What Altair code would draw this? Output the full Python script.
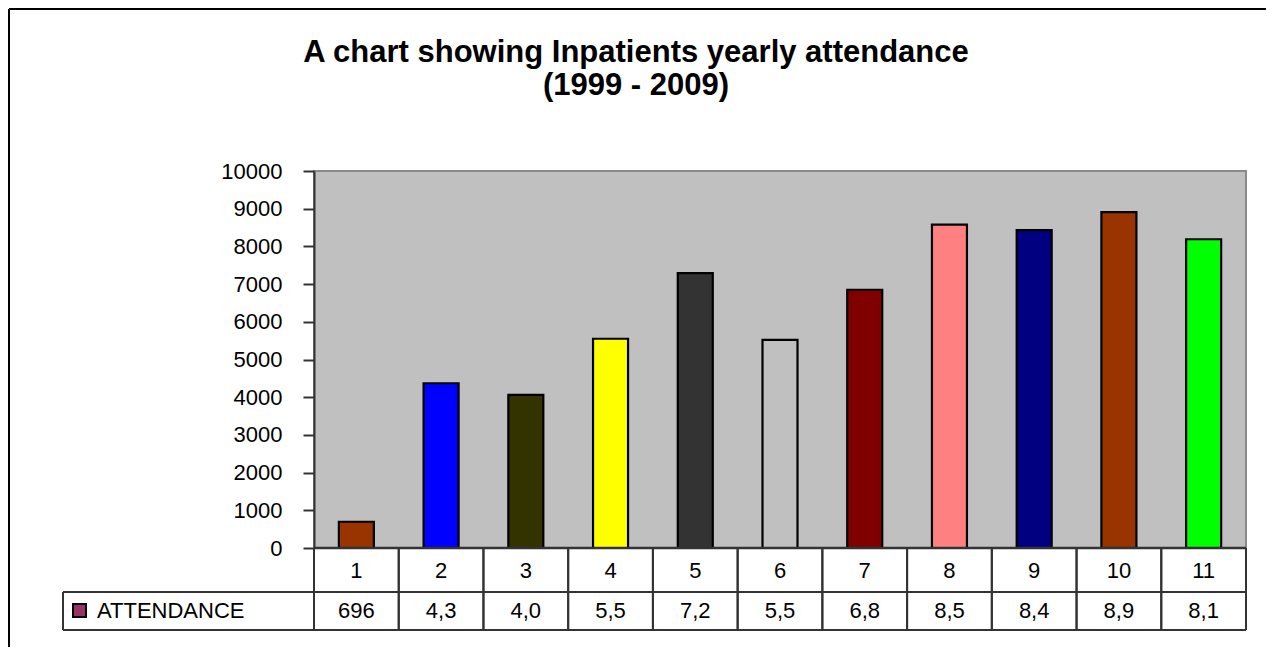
import altair as alt
import pandas as pd

# ---- data ----
categories = ["1", "2", "3", "4", "5", "6", "7", "8", "9", "10", "11"]
attendance = [696, 4370, 4060, 5550, 7290, 5520, 6850, 8580, 8430, 8910, 8190]
table_labels = ["696", "4,3", "4,0", "5,5", "7,2", "5,5", "6,8", "8,5", "8,4", "8,9", "8,1"]
bar_colors = ["#993300", "#0000FF", "#333300", "#FFFF00", "#333333", "#C0C0C0",
              "#800000", "#FF8080", "#000080", "#993300", "#00FF00"]
y_ticks = [0, 1000, 2000, 3000, 4000, 5000, 6000, 7000, 8000, 9000, 10000]
series_name = "ATTENDANCE"
series_color = "#993366"
title_lines = ["A chart showing Inpatients yearly attendance", "(1999 - 2009)"]

FONT = "Liberation Sans"
W, H = 932, 377
LINE = "#333333"
FS = 22

df = pd.DataFrame({
    "idx": list(range(1, len(categories) + 1)),
    "cat": categories,
    "value": attendance,
    "label": table_labels,
    "color": bar_colors,
})
df["left"] = df["idx"] - 0.5
df["right"] = df["idx"] + 0.5

xscale = alt.Scale(domain=[0.5, len(categories) + 0.5], nice=False, zero=False, padding=0)
base = alt.Chart(df)

bars = base.mark_bar(size=35, stroke="black", strokeWidth=2.2).encode(
    x=alt.X("idx:Q", scale=xscale, axis=None),
    y=alt.Y("value:Q", scale=alt.Scale(domain=[0, 10000], nice=False),
            axis=alt.Axis(values=y_ticks, title=None, labelFontSize=FS, labelFont=FONT,
                          labelColor="black", tickSize=11, tickColor=LINE, tickWidth=2,
                          domainColor=LINE, domainWidth=2, labelPadding=21, grid=False,
                          format="d")),
    color=alt.Color("color:N", scale=None),
)

# table grid
vl = base.mark_rule(color=LINE, strokeWidth=2).encode(
    x=alt.X("left:Q", scale=xscale, axis=None), y=alt.value(H), y2=alt.value(H + 82))
vr = base.mark_rule(color=LINE, strokeWidth=2).encode(
    x=alt.X("right:Q", scale=xscale, axis=None), y=alt.value(H), y2=alt.value(H + 82))

one = pd.DataFrame({"k": [0]})
h0 = alt.Chart(one).mark_rule(color=LINE, strokeWidth=2.5).encode(
    x=alt.value(0), x2=alt.value(W), y=alt.value(H))
h1 = alt.Chart(one).mark_rule(color=LINE, strokeWidth=2).encode(
    x=alt.value(-251), x2=alt.value(W), y=alt.value(H + 44))
h2 = alt.Chart(one).mark_rule(color=LINE, strokeWidth=2).encode(
    x=alt.value(-251), x2=alt.value(W), y=alt.value(H + 82))
vleft = alt.Chart(one).mark_rule(color=LINE, strokeWidth=2).encode(
    x=alt.value(-251), y=alt.value(H + 44), y2=alt.value(H + 82))

cat_text = base.mark_text(font=FONT, fontSize=FS, color="black", baseline="middle").encode(
    x=alt.X("idx:Q", scale=xscale, axis=None), y=alt.value(H + 23), text="cat:N")
val_text = base.mark_text(font=FONT, fontSize=FS, color="black", baseline="middle").encode(
    x=alt.X("idx:Q", scale=xscale, axis=None), y=alt.value(H + 63), text="label:N")

series_df = pd.DataFrame({"name": [series_name]})
swatch = alt.Chart(series_df).mark_rect(fill=series_color, stroke="black", strokeWidth=2).encode(
    x=alt.value(-241), x2=alt.value(-228), y=alt.value(H + 56), y2=alt.value(H + 69))
series_text = alt.Chart(series_df).mark_text(font=FONT, fontSize=FS, color="black",
                                             align="left", baseline="middle").encode(
    x=alt.value(-217), y=alt.value(H + 63), text="name:N")

# title
t1 = alt.Chart(pd.DataFrame({"t": [title_lines[0]]})).mark_text(
    font=FONT, fontSize=31, fontWeight="bold", color="black", align="center",
    baseline="alphabetic").encode(x=alt.value(322), y=alt.value(-109), text="t:N")
t2 = alt.Chart(pd.DataFrame({"t": [title_lines[1]]})).mark_text(
    font=FONT, fontSize=31, fontWeight="bold", color="black", align="center",
    baseline="alphabetic").encode(x=alt.value(322), y=alt.value(-76), text="t:N")

# outer frame (top and left edges visible in the reference)
ft = alt.Chart(one).mark_rule(color="black", strokeWidth=2).encode(
    x=alt.value(-305), x2=alt.value(952), y=alt.value(-162))
fl = alt.Chart(one).mark_rule(color="black", strokeWidth=2).encode(
    x=alt.value(-305), y=alt.value(-162), y2=alt.value(476))

chart = alt.layer(
    ft, fl, bars, vl, vr, h0, h1, h2, vleft, cat_text, val_text, swatch, series_text, t1, t2
).properties(
    width=W, height=H, padding=0, background="white"
).configure_view(
    fill="#C0C0C0", stroke="#8A8A8A", strokeWidth=2
)

chart.save("out.html", embed_options={"renderer": "svg", "actions": False})
